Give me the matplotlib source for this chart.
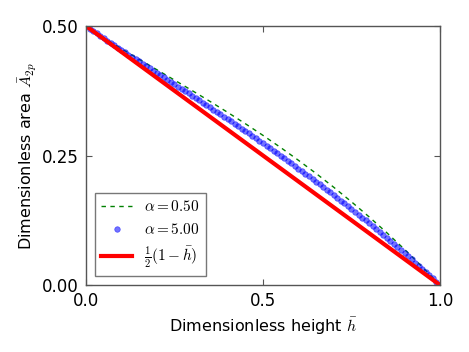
import matplotlib
matplotlib.use("Agg")
import matplotlib.pyplot as plt

plt.rcParams['mathtext.fontset'] = 'cm'
plt.rcParams['font.family'] = ['DejaVu Sans']

# alpha = 0.50 curve (green dashed)
h_green = [0.00, 0.05, 0.10, 0.15, 0.20, 0.25, 0.30, 0.35, 0.40, 0.45, 0.50,
           0.55, 0.60, 0.65, 0.70, 0.75, 0.80, 0.85, 0.90, 0.95, 1.00]
a_green = [0.5000, 0.4773, 0.4563, 0.4359, 0.4157, 0.3956, 0.3753, 0.3546,
           0.3334, 0.3115, 0.2889, 0.2654, 0.2409, 0.2154, 0.1887, 0.1607,
           0.1315, 0.1009, 0.0688, 0.0352, 0.0000]

# alpha = 5.00 curve (blue dots)
h_blue = [i / 100 for i in range(101)]
a_blue = [0.5000, 0.4951, 0.4904, 0.4857, 0.4810, 0.4764, 0.4719, 0.4673, 0.4628, 0.4583,
          0.4538, 0.4494, 0.4449, 0.4405, 0.4360, 0.4316, 0.4272, 0.4228, 0.4184, 0.4140,
          0.4096, 0.4052, 0.4008, 0.3964, 0.3920, 0.3876, 0.3831, 0.3787, 0.3743, 0.3699,
          0.3654, 0.3610, 0.3565, 0.3520, 0.3475, 0.3430, 0.3385, 0.3340, 0.3295, 0.3249,
          0.3203, 0.3158, 0.3112, 0.3065, 0.3019, 0.2972, 0.2926, 0.2879, 0.2832, 0.2784,
          0.2737, 0.2689, 0.2641, 0.2593, 0.2545, 0.2496, 0.2447, 0.2398, 0.2349, 0.2299,
          0.2249, 0.2199, 0.2149, 0.2098, 0.2047, 0.1996, 0.1944, 0.1893, 0.1840, 0.1788,
          0.1735, 0.1682, 0.1629, 0.1576, 0.1522, 0.1468, 0.1413, 0.1358, 0.1303, 0.1248,
          0.1192, 0.1136, 0.1079, 0.1022, 0.0965, 0.0908, 0.0850, 0.0791, 0.0733, 0.0674,
          0.0614, 0.0555, 0.0495, 0.0434, 0.0373, 0.0312, 0.0250, 0.0188, 0.0126, 0.0063,
          0.0000]

# reference line 1/2 (1 - h)
h_red = [0.0, 1.0]
a_red = [0.5, 0.0]

labels = [r'$\alpha=0.50$', r'$\alpha=5.00$', r'$\frac{1}{2}(1-\bar{h})$']
xticks = [0.0, 0.5, 1.0]
xticklabels = ['0.0', '0.5', '1.0']
yticks = [0.00, 0.25, 0.50]
yticklabels = ['0.00', '0.25', '0.50']

fig = plt.figure(figsize=(4.69, 3.52), dpi=100)
ax = fig.add_axes([0.1834, 0.1903, 0.7546, 0.7358])

ax.plot(h_green, a_green, color='green', lw=1.0, dashes=(3.2, 3.2), label=labels[0])
ax.plot(h_blue, a_blue, 'o', color='blue', ms=4.0, mec='blue', mew=0.5,
        alpha=0.55, label=labels[1])
ax.plot(h_red, a_red, '-', color='red', lw=3.0, label=labels[2])

ax.set_xlim(0, 1)
ax.set_ylim(0, 0.5)
ax.set_xticks(xticks)
ax.set_xticklabels(xticklabels)
ax.set_yticks(yticks)
ax.set_yticklabels(yticklabels)
ax.tick_params(direction='in', top=True, right=True, length=4, labelsize=12,
               colors='#555555', labelcolor='black', pad=5)
for s in ax.spines.values():
    s.set_color('#555555')
    s.set_linewidth(1.0)

ax.set_xlabel(r'Dimensionless height $\bar{h}$', fontsize=11.5, labelpad=4)
ax.set_ylabel(r'Dimensionless area $\bar{A}_{2p}$', fontsize=11.5, labelpad=2)

leg = ax.legend(loc='lower left', numpoints=1, fancybox=False, fontsize=11,
                frameon=True, borderaxespad=0.6)
leg.get_frame().set_edgecolor('#555555')
leg.get_frame().set_linewidth(1.0)

fig.savefig('out.png', dpi=100)
